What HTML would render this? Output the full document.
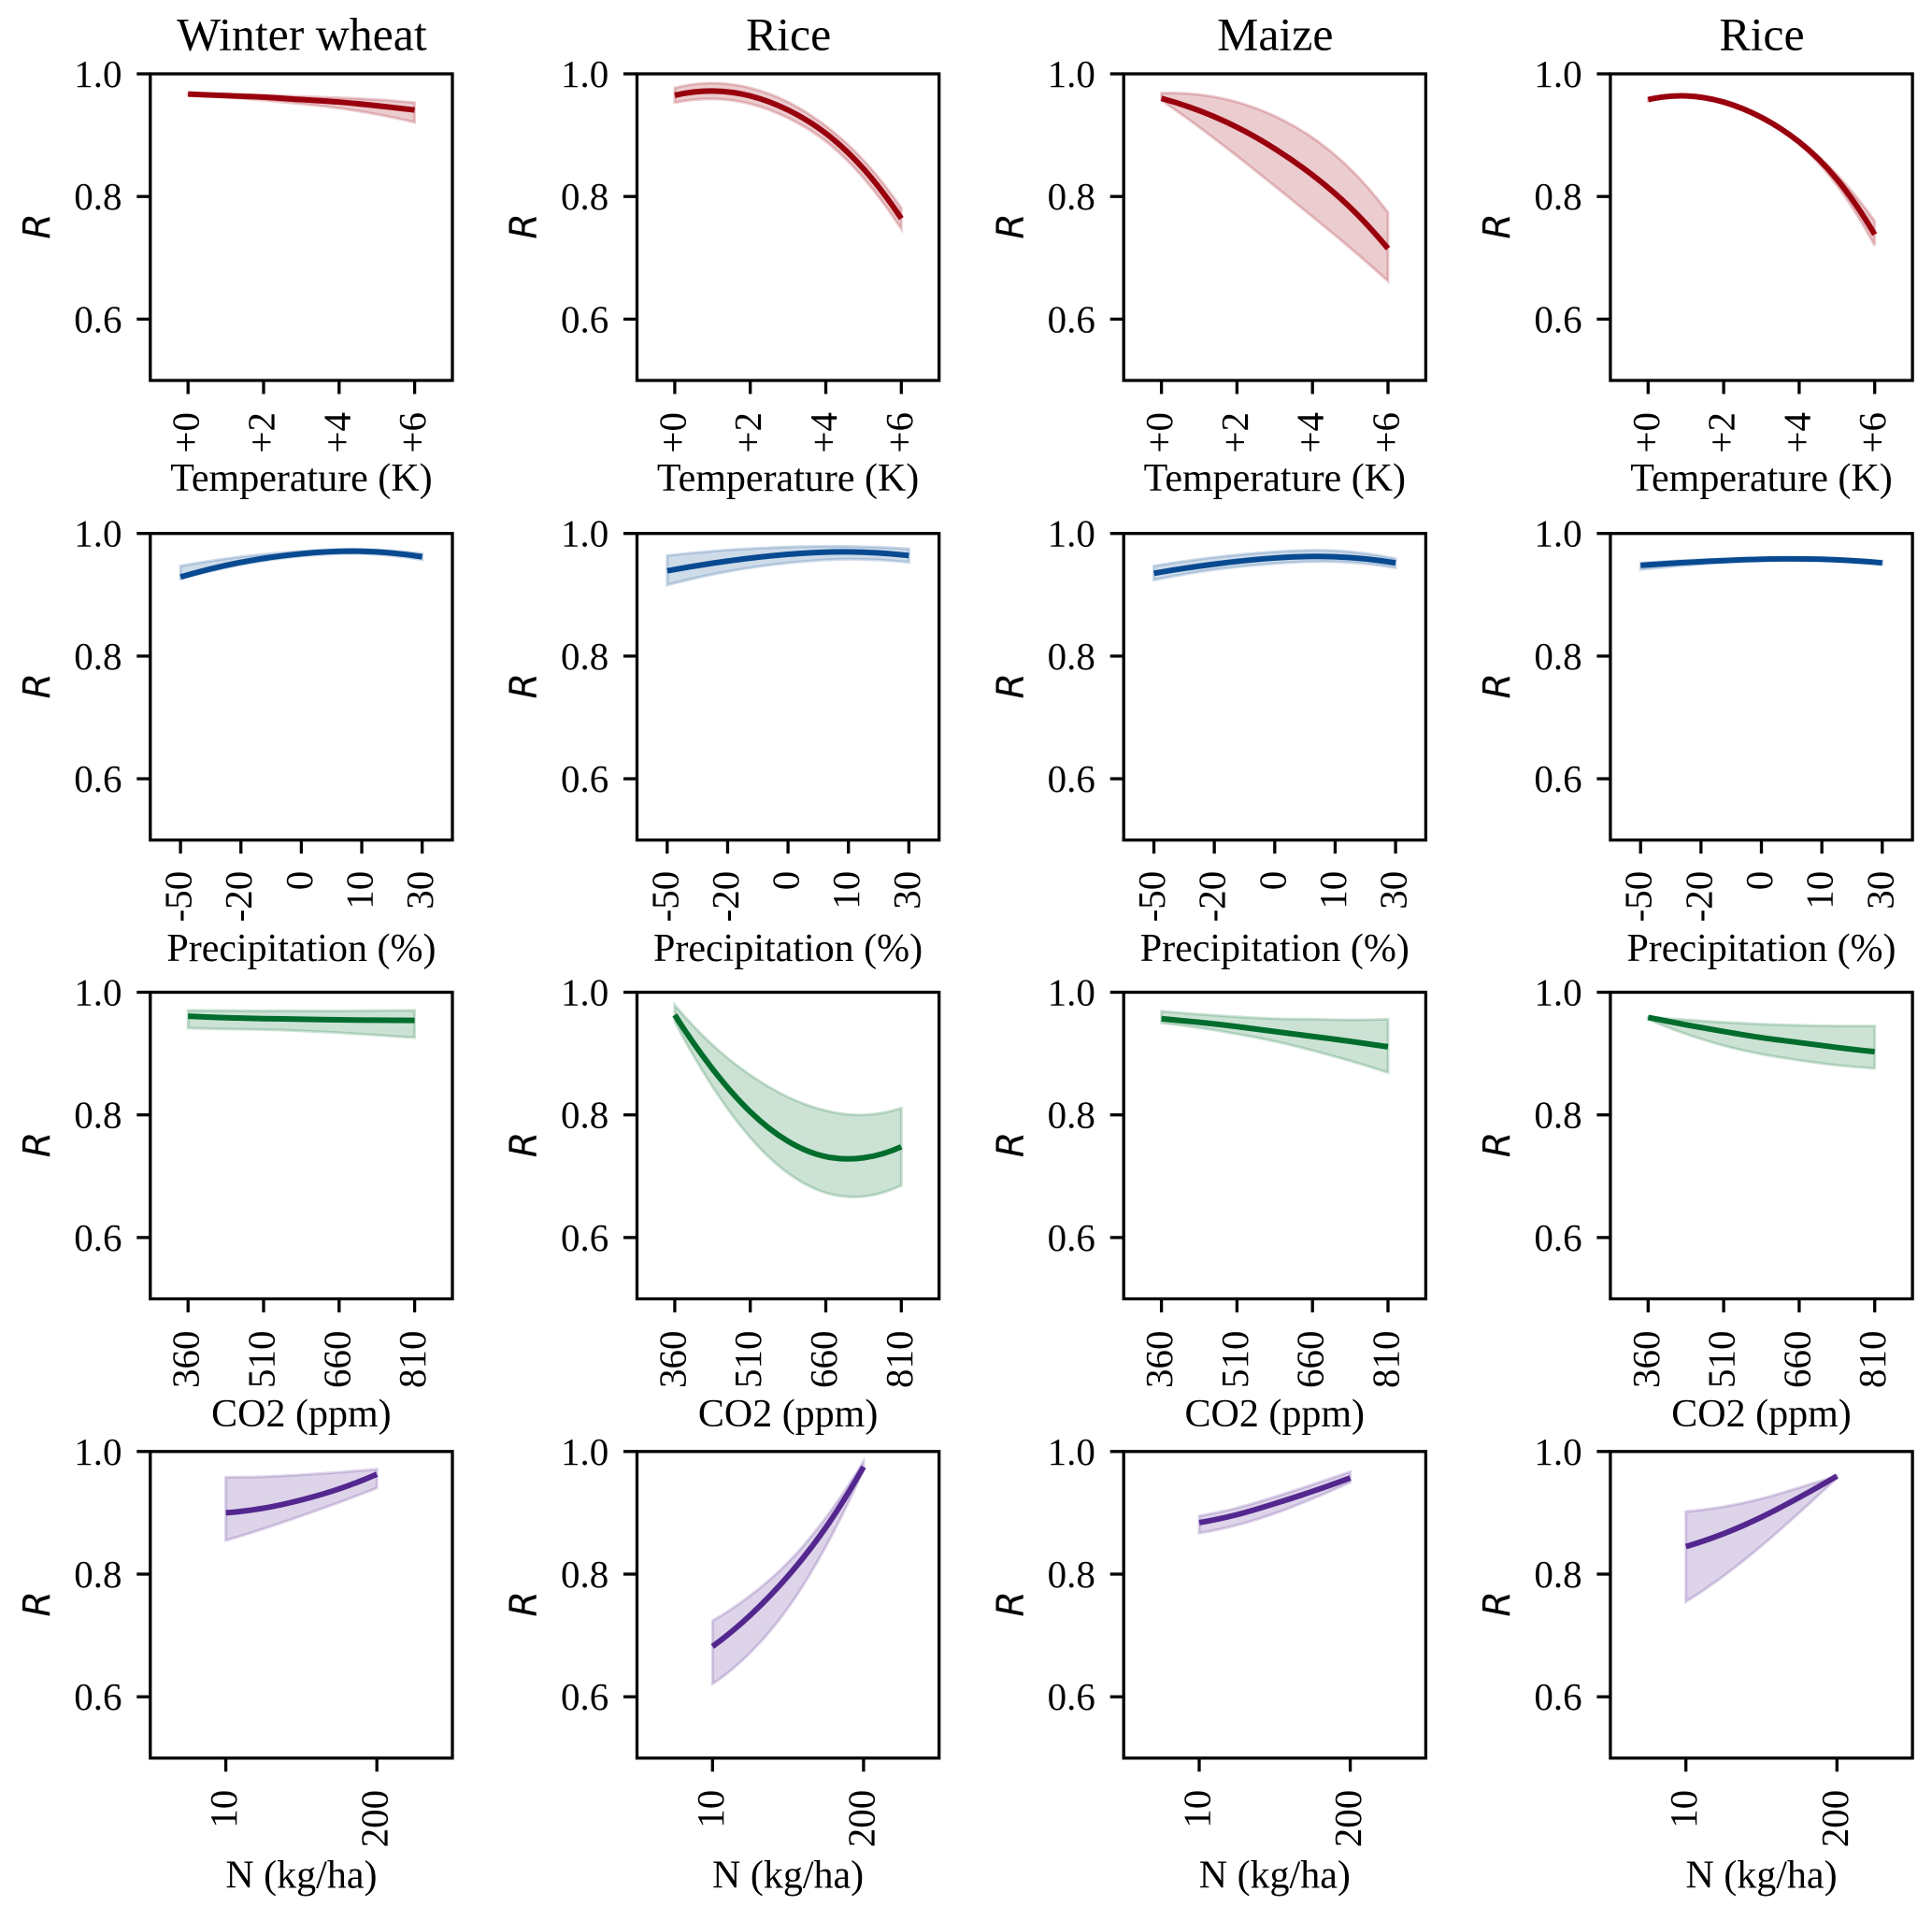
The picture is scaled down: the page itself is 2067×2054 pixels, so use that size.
<!DOCTYPE html>
<html lang="en">
<head>
<meta charset="utf-8">
<title>Response curves</title>
<style>
html,body{margin:0;padding:0;background:#fff;width:2067px;height:2054px;overflow:hidden}
svg{display:block}
text{font-family:"Liberation Serif",serif;fill:#000}
.r{font-family:"DejaVu Sans",sans-serif;font-style:italic}
</style>
</head>
<body>
<svg id="chart" xmlns="http://www.w3.org/2000/svg" width="2067" height="2054" viewBox="0 0 2067 2054"></svg>
<script>
const cropTitles = ['Winter wheat', 'Rice', 'Maize', 'Rice'];
const yTickValues = [1.0, 0.8, 0.6];
const yTickLabels = ['1.0', '0.8', '0.6'];

const tempX = [0, 1, 2, 3, 4, 5, 6];
const tempTickValues = [0, 2, 4, 6];
const tempTickLabels = ['+0', '+2', '+4', '+6'];
const precipX = [0, 1, 2, 3, 4];
const precipTickValues = [0, 1, 2, 3, 4];
const precipTickLabels = ['-50', '-20', '0', '10', '30'];
const co2X = [360, 435, 510, 585, 660, 735, 810];
const co2TickValues = [360, 510, 660, 810];
const co2TickLabels = ['360', '510', '660', '810'];
const nX = [10, 57.5, 105, 152.5, 200];
const nTickValues = [10, 200];
const nTickLabels = ['10', '200'];

const wheatTempMean = [.967, .9645, .962, .958, .954, .948, .941];
const wheatTempUpper = [.967, .966, .965, .963, .961, .958, .953];
const wheatTempLower = [.966, .962, .957, .951, .944, .934, .921];
const riceTempMean = [.965, .972, .964, .941, .903, .845, .764];
const riceTempUpper = [.977, .985, .977, .954, .915, .859, .781];
const riceTempLower = [.953, .959, .951, .928, .890, .830, .747];
const maizeTempMean = [.960, .940, .913, .878, .835, .782, .715];
const maizeTempUpper = [.9685, .966, .954, .931, .896, .845, .774];
const maizeTempLower = [.957, .913, .866, .817, .767, .716, .662];
const rice2TempMean = [.958, .964, .954, .929, .889, .828, .738];
const rice2TempUpper = [.960, .965, .955, .930, .892, .836, .760];
const rice2TempLower = [.956, .963, .953, .927, .885, .818, .720];

const wheatPrecipMean = [.929, .953, .967, .971, .962];
const wheatPrecipUpper = [.947, .962, .971, .974, .967];
const wheatPrecipLower = [.926, .949, .963, .967, .957];
const ricePrecipMean = [.939, .955, .966, .970, .964];
const ricePrecipUpper = [.964, .973, .978, .979, .975];
const ricePrecipLower = [.916, .938, .952, .958, .953];
const maizePrecipMean = [.935, .950, .960, .962, .952];
const maizePrecipUpper = [.947, .961, .970, .972, .959];
const maizePrecipLower = [.924, .941, .951, .954, .944];
const rice2PrecipMean = [.948, .954, .958, .958, .952];
const rice2PrecipUpper = [.952, .957, .960, .960, .955];
const rice2PrecipLower = [.941, .950, .956, .956, .950];

const wheatCo2Mean = [.961, .9585, .957, .956, .955, .9545, .954];
const wheatCo2Upper = [.9705, .970, .9695, .9695, .9695, .970, .9705];
const wheatCo2Lower = [.9415, .940, .939, .937, .934, .930, .926];
const riceCo2Mean = [.963, .875, .805, .757, .732, .730, .748];
const riceCo2Upper = [.979, .914, .865, .829, .807, .800, .811];
const riceCo2Lower = [.952, .846, .763, .705, .673, .667, .685];
const maizeCo2Mean = [.957, .951, .944, .936, .928, .920, .911];
const maizeCo2Upper = [.969, .964, .960, .957, .956, .955, .956];
const maizeCo2Lower = [.950, .942, .932, .920, .905, .888, .869];
const rice2Co2Mean = [.959, .947, .936, .926, .918, .910, .903];
const rice2Co2Upper = [.959, .955, .951, .948, .946, .945, .945];
const rice2Co2Lower = [.956, .932, .913, .899, .889, .881, .876];

const wheatNMean = [.900, .9075, .921, .939, .963];
const wheatNUpper = [.958, .959, .962, .966, .971];
const wheatNLower = [.855, .874, .895, .917, .9405];
const riceNMean = [.682, .733, .797, .876, .975];
const riceNUpper = [.724, .765, .819, .892, .984];
const riceNLower = [.621, .672, .745, .845, .970];
const maizeNMean = [.884, .897, .915, .935, .957];
const maizeNUpper = [.895, .908, .926, .946, .967];
const maizeNLower = [.867, .880, .899, .923, .950];
const rice2NMean = [.845, .866, .893, .925, .960];
const rice2NUpper = [.902, .910, .923, .941, .960];
const rice2NLower = [.755, .797, .846, .900, .957];

const rows = [
  { key: 'temperature', label: 'Temperature (K)', color: '#99000d', xMin: -1, xMax: 7, xs: tempX, tickValues: tempTickValues, tickLabels: tempTickLabels,
    top: 79, labelBase: 525, tickGap: 34,
    series: [[wheatTempMean, wheatTempUpper, wheatTempLower], [riceTempMean, riceTempUpper, riceTempLower], [maizeTempMean, maizeTempUpper, maizeTempLower], [rice2TempMean, rice2TempUpper, rice2TempLower]] },
  { key: 'precipitation', label: 'Precipitation (%)', color: '#084a91', xMin: -0.5, xMax: 4.5, xs: precipX, tickValues: precipTickValues, tickLabels: precipTickLabels,
    top: 570.7, labelBase: 1028, tickGap: 33,
    series: [[wheatPrecipMean, wheatPrecipUpper, wheatPrecipLower], [ricePrecipMean, ricePrecipUpper, ricePrecipLower], [maizePrecipMean, maizePrecipUpper, maizePrecipLower], [rice2PrecipMean, rice2PrecipUpper, rice2PrecipLower]] },
  { key: 'co2', label: 'CO2 (ppm)', color: '#006d2c', xMin: 285, xMax: 885, xs: co2X, tickValues: co2TickValues, tickLabels: co2TickLabels,
    top: 1061.5, labelBase: 1526, tickGap: 34,
    series: [[wheatCo2Mean, wheatCo2Upper, wheatCo2Lower], [riceCo2Mean, riceCo2Upper, riceCo2Lower], [maizeCo2Mean, maizeCo2Upper, maizeCo2Lower], [rice2Co2Mean, rice2Co2Upper, rice2Co2Lower]] },
  { key: 'nitrogen', label: 'N (kg/ha)', color: '#54278f', xMin: -85, xMax: 295, xs: nX, tickValues: nTickValues, tickLabels: nTickLabels,
    top: 1552.8, labelBase: 2019.5, tickGap: 34,
    series: [[wheatNMean, wheatNUpper, wheatNLower], [riceNMean, riceNUpper, riceNLower], [maizeNMean, maizeNUpper, maizeNLower], [rice2NMean, rice2NUpper, rice2NLower]] }
];

const NS = 'http://www.w3.org/2000/svg';
const svg = document.getElementById('chart');
const panelWidth = 323.2, panelHeight = 328, firstLeft = 160.8, colStep = 520.7;
const yMin = 0.5, yMax = 1.0;

function make(tag, parent, props, text) {
  const el = document.createElementNS(NS, tag);
  for (const k in props) el.setAttribute(k, props[k]);
  if (text !== undefined) el.textContent = text;
  parent.appendChild(el);
  return el;
}

/* C2 cubic spline through evenly spaced screen points, emitted as Bezier segments */
function smoothSegments(pts) {
  const n = pts.length, h = (pts[n - 1][0] - pts[0][0]) / (n - 1), y = pts.map(function (p) { return p[1]; });
  const m = new Array(n);
  m[0] = (-3 * y[0] + 4 * y[1] - y[2]) / (2 * h);
  m[n - 1] = (3 * y[n - 1] - 4 * y[n - 2] + y[n - 3]) / (2 * h);
  const c = new Array(n).fill(0), d = new Array(n).fill(0);
  d[1] = 3 * (y[2] - y[0]) / h - m[0];
  c[1] = 1 / 4;
  d[1] = d[1] / 4;
  for (let i = 2; i < n - 1; i++) {
    const rhs = 3 * (y[i + 1] - y[i - 1]) / h - (i === n - 2 ? m[n - 1] : 0);
    const den = 4 - c[i - 1];
    c[i] = 1 / den;
    d[i] = (rhs - d[i - 1]) / den;
  }
  m[n - 2] = d[n - 2];
  for (let i = n - 3; i > 0; i--) m[i] = d[i] - c[i] * m[i + 1];
  let out = '';
  for (let i = 0; i < n - 1; i++) {
    const x1 = pts[i][0] + h / 3, y1 = y[i] + m[i] * h / 3;
    const x2 = pts[i + 1][0] - h / 3, y2 = y[i + 1] - m[i + 1] * h / 3;
    out += ' C' + x1.toFixed(2) + ' ' + y1.toFixed(2) + ' ' + x2.toFixed(2) + ' ' + y2.toFixed(2) + ' ' + pts[i + 1][0].toFixed(2) + ' ' + y[i + 1].toFixed(2);
  }
  return out;
}

rows.forEach(function (row, r) {
  cropTitles.forEach(function (crop, c) {
    const left = firstLeft + c * colStep, top = row.top, bottom = top + panelHeight;
    const xAxis = function (v) { return left + (v - row.xMin) / (row.xMax - row.xMin) * panelWidth; };
    const yAxis = function (v) { return top + (yMax - v) / (yMax - yMin) * panelHeight; };
    const slug = row.key + '-' + (c + 1);

    const g = make('g', svg, {});
    
    

    if (r === 0) {
      const title = make('text', g, { x: left + panelWidth / 2 + 0.5, y: 53.6, 'text-anchor': 'middle', 'font-size': 49.8 }, crop);
      
      
    }

    const mean = row.series[c][0], upper = row.series[c][1], lower = row.series[c][2];
    const meanPts = row.xs.map(function (x, i) { return [xAxis(x), yAxis(mean[i])]; });
    const upperPts = row.xs.map(function (x, i) { return [xAxis(x), yAxis(upper[i])]; });
    const lowerPts = row.xs.map(function (x, i) { return [xAxis(x), yAxis(lower[i])]; }).reverse();

    const bandPath = 'M' + upperPts[0][0] + ' ' + upperPts[0][1] + smoothSegments(upperPts) +
      ' L' + lowerPts[0][0] + ' ' + lowerPts[0][1] + smoothSegments(lowerPts) + ' Z';
    const band = make('path', g, { d: bandPath, fill: row.color, 'fill-opacity': 0.2, stroke: row.color, 'stroke-opacity': 0.2, 'stroke-width': 3, 'stroke-linejoin': 'miter' });
    
    

    const line = make('path', g, { d: 'M' + meanPts[0][0] + ' ' + meanPts[0][1] + smoothSegments(meanPts), fill: 'none', stroke: row.color, 'stroke-width': 6, 'stroke-linecap': 'butt' });
    
    

    const frame = make('rect', g, { x: left, y: top, width: panelWidth, height: panelHeight, fill: 'none', stroke: '#000', 'stroke-width': 3.3 });
    
    

    yTickValues.forEach(function (v, i) {
      const t = make('line', g, { x1: left - 14.5, x2: left, y1: yAxis(v), y2: yAxis(v), stroke: '#000', 'stroke-width': 3.3 });
      
      
      const lab = make('text', g, { x: left - 30.3, y: yAxis(v) + 14, 'text-anchor': 'end', 'font-size': 41 }, yTickLabels[i]);
      
      
    });

    row.tickValues.forEach(function (v, i) {
      const px = xAxis(v);
      const t = make('line', g, { x1: px, x2: px, y1: bottom, y2: bottom + 14.5, stroke: '#000', 'stroke-width': 3.3 });
      
      
      const lx = px + 11.5, ly = bottom + row.tickGap;
      const lab = make('text', g, { x: lx, y: ly, 'text-anchor': 'end', 'font-size': 41, transform: 'rotate(-90 ' + lx + ' ' + ly + ')' }, row.tickLabels[i]);
      
      
    });

    const xTitle = make('text', g, { x: left + panelWidth / 2, y: row.labelBase, 'text-anchor': 'middle', 'font-size': 42 }, row.label);
    
    

    const rx = left - 107.4, ry = top + panelHeight / 2 - 1;
    const yTitle = make('text', g, { x: rx, y: ry, 'text-anchor': 'middle', 'font-size': 40, class: 'r', transform: 'rotate(-90 ' + rx + ' ' + ry + ')' }, 'R');
    
    
  });
});
</script>
</body>
</html>
